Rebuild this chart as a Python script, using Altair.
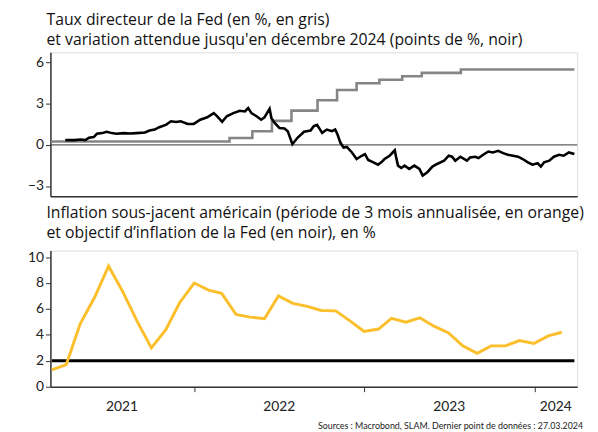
import altair as alt
import pandas as pd

FONT = "Lato"
TFONT = "Open Sans"
W = 534
H1 = 146
H2 = 138

# --- Top panel data ---
fed_dates = ["2021-02-26", "2022-03-17", "2022-05-05", "2022-06-16", "2022-07-28",
             "2022-09-22", "2022-11-03", "2022-12-15", "2023-02-02", "2023-03-23",
             "2023-05-04", "2023-07-27", "2024-03-27"]
fed_rate = [0.25, 0.5, 1.0, 1.75, 2.5, 3.25, 4.0, 4.5, 4.75, 5.0, 5.25, 5.5, 5.5]

exp_dates = ["2021-03-29", "2021-04-17", "2021-05-01", "2021-05-11", "2021-05-19", "2021-05-29",
             "2021-06-05", "2021-06-16", "2021-06-26", "2021-07-07", "2021-07-17", "2021-08-01",
             "2021-08-15", "2021-08-29", "2021-09-16", "2021-09-26", "2021-10-07", "2021-10-17",
             "2021-11-01", "2021-11-11", "2021-11-22", "2021-12-02", "2021-12-17", "2021-12-30",
             "2022-01-13", "2022-01-28", "2022-02-11", "2022-02-18", "2022-03-01", "2022-03-11",
             "2022-03-25", "2022-04-08", "2022-04-19", "2022-04-26", "2022-05-03", "2022-05-14",
             "2022-05-24", "2022-05-31", "2022-06-11", "2022-06-15", "2022-06-22", "2022-07-02",
             "2022-07-13", "2022-07-20", "2022-07-30", "2022-08-10", "2022-08-24", "2022-09-07",
             "2022-09-14", "2022-09-21", "2022-10-02", "2022-10-12", "2022-10-23", "2022-10-30",
             "2022-11-04", "2022-11-10", "2022-11-17", "2022-11-24", "2022-12-05", "2022-12-15",
             "2022-12-26", "2023-01-02", "2023-01-09", "2023-01-20", "2023-01-30", "2023-02-06",
             "2023-02-13", "2023-02-24", "2023-03-07", "2023-03-10", "2023-03-14", "2023-03-21",
             "2023-03-28", "2023-04-07", "2023-04-18", "2023-04-29", "2023-05-06", "2023-05-16",
             "2023-05-27", "2023-06-06", "2023-06-21", "2023-07-01", "2023-07-08", "2023-07-15",
             "2023-07-26", "2023-08-09", "2023-08-16", "2023-08-27", "2023-09-03", "2023-09-13",
             "2023-09-24", "2023-10-04", "2023-10-15", "2023-10-26", "2023-11-05", "2023-11-16",
             "2023-11-27", "2023-12-07", "2023-12-18", "2023-12-28", "2024-01-08", "2024-01-15",
             "2024-01-22", "2024-02-02", "2024-02-12", "2024-02-23", "2024-03-04", "2024-03-15",
             "2024-03-27"]
exp_change = [0.35, 0.35, 0.4, 0.35, 0.52, 0.57,
              0.81, 0.86, 0.96, 0.86, 0.81, 0.86,
              0.83, 0.86, 0.91, 1.05, 1.12, 1.29,
              1.48, 1.72, 1.67, 1.72, 1.53, 1.53,
              1.84, 2.01, 2.32, 2.1, 1.68, 2.09,
              2.32, 2.49, 2.44, 2.68, 2.32, 2.09,
              1.84, 2.01, 2.63, 1.94, 1.6, 1.24,
              1.2, 1.0, 0.05, 0.52, 0.96, 1.05,
              1.37, 1.46, 0.88, 1.12, 1.0, 1.12,
              0.76, 0.17, -0.19, -0.15, -0.55, -1.03,
              -0.79, -0.67, -1.1, -1.27, -1.44, -1.27,
              -1.03, -0.79, -0.39, -0.91, -1.51, -1.68,
              -1.51, -1.75, -1.51, -1.75, -2.23, -1.99,
              -1.58, -1.39, -1.15, -0.78, -0.86, -1.15,
              -0.86, -1.15, -0.91, -0.86, -0.96, -0.72,
              -0.48, -0.55, -0.43, -0.6, -0.72, -0.79,
              -0.86, -1.03, -1.27, -1.44, -1.34, -1.58,
              -1.27, -1.15, -0.86, -0.72, -0.79, -0.55,
              -0.67]

# --- Bottom panel data ---
infl_dates = pd.date_range("2021-02-28", "2024-02-29", freq="ME")
infl_values = [1.3, 1.7, 4.85, 6.9, 9.3, 7.3, 5.0, 3.0, 4.4, 6.5,
               8.0, 7.45, 7.2, 5.57, 5.37, 5.24, 7.0, 6.43, 6.2,
               5.88, 5.85, 5.1, 4.27, 4.45, 5.27, 4.98, 5.32, 4.65, 4.17,
               3.15, 2.57, 3.15, 3.15, 3.56, 3.33, 3.92, 4.2]
target_dates = ["2021-02-28", "2024-03-27"]
target_values = [2, 2]

year_label_dates = ["2021-07-29", "2022-07-02", "2023-07-02", "2024-02-16"]
year_labels = ["2021", "2022", "2023", "2024"]

title_top = ["Taux directeur de la Fed (en %, en gris)",
             "et variation attendue jusqu'en décembre 2024 (points de %, noir)"]
title_bottom = ["Inflation sous-jacent américain (période de 3 mois annualisée, en orange)",
                "et objectif d\u2019inflation de la Fed (en noir), en %"]
footer = "Sources : Macrobond, SLAM. Dernier point de données : 27.03.2024"

fed_df = pd.DataFrame({"date": pd.to_datetime(fed_dates), "v": fed_rate})
exp_df = pd.DataFrame({"date": pd.to_datetime(exp_dates), "v": exp_change})
infl_df = pd.DataFrame({"date": infl_dates, "v": infl_values})
tgt_df = pd.DataFrame({"date": pd.to_datetime(target_dates), "v": target_values})
yl_df = pd.DataFrame({"date": pd.to_datetime(year_label_dates), "t": year_labels})
foot_df = pd.DataFrame({"t": [footer]})

x_dom = [alt.DateTime(year=2021, month=2, date=25), alt.DateTime(year=2024, month=4, date=2)]
x_scale = alt.Scale(domain=x_dom)
AX = "#333333"

def title(lines, off):
    return alt.TitleParams(text=lines, anchor="start", frame="group", dx=-4, fontSize=16,
                           fontWeight="normal", font=TFONT, lineHeight=21, offset=off, color="#111111")

top_x = alt.X("date:T", scale=x_scale,
              axis=alt.Axis(title=None, labels=False, ticks=False, grid=False,
                            domainColor=AX, domainWidth=1.5))
top_y = alt.Y("v:Q", scale=alt.Scale(domain=[-3.75, 6.75], nice=False, zero=False),
              axis=alt.Axis(title=None, values=[-3, 0, 3, 6], grid=False, tickSize=5,
                            tickColor=AX, domainColor=AX, domainWidth=1.5, labelFontSize=14,
                            labelPadding=2, labelColor="#222222", labelFont=FONT))

zero = alt.Chart(pd.DataFrame({"v": [0]})).mark_rule(color="#333333", strokeWidth=1).encode(
    y=alt.Y("v:Q", scale=alt.Scale(domain=[-3.75, 6.75], nice=False)))
gray = alt.Chart(fed_df).mark_line(color="#858585", strokeWidth=2.6, interpolate="step-after").encode(
    x=top_x, y=top_y)
black = alt.Chart(exp_df).mark_line(color="#000000", strokeWidth=2.6).encode(x=top_x, y=top_y)

top = alt.layer(zero, gray, black).properties(width=W, height=H1, title=title(title_top, 4))

bot_x = alt.X("date:T", scale=x_scale,
              axis=alt.Axis(title=None, labels=False, grid=False, tickSize=5, tickColor=AX,
                            domainColor=AX, domainWidth=1.5,
                            values=[alt.DateTime(year=2022, month=1, date=1),
                                    alt.DateTime(year=2023, month=1, date=1),
                                    alt.DateTime(year=2024, month=1, date=1)]))
bot_y = alt.Y("v:Q", scale=alt.Scale(domain=[0, 10.5], nice=False),
              axis=alt.Axis(title=None, values=[0, 2, 4, 6, 8, 10], grid=False, tickSize=5,
                            tickColor=AX, domainColor=AX, domainWidth=1.5, labelFontSize=14,
                            labelPadding=2, labelColor="#222222", labelFont=FONT))

target = alt.Chart(tgt_df).mark_line(color="#000000", strokeWidth=3).encode(x=bot_x, y=bot_y)
orange = alt.Chart(infl_df).mark_line(color="#FBBF2C", strokeWidth=3).encode(x=bot_x, y=bot_y)
ylab = alt.Chart(yl_df).mark_text(font=FONT, fontSize=14, color="#222222", baseline="middle").encode(
    x=alt.X("date:T", scale=x_scale), y=alt.value(H2 + 21), text="t:N")
foot = alt.Chart(foot_df).mark_text(font=FONT, fontSize=9, color="#222222", align="right",
                                    baseline="alphabetic").encode(
    x=alt.value(W + 6), y=alt.value(H2 + 43), text="t:N")

bottom = alt.layer(target, orange, ylab, foot).properties(width=W, height=H2,
                                                          title=title(title_bottom, 9))

chart = alt.vconcat(top, bottom, spacing=7).properties(
    padding={"left": 19, "top": 0, "right": 5, "bottom": 0}
).configure_view(strokeWidth=0).configure(font=FONT)

chart.save("out.html", embed_options={"renderer": "svg", "actions": False})
